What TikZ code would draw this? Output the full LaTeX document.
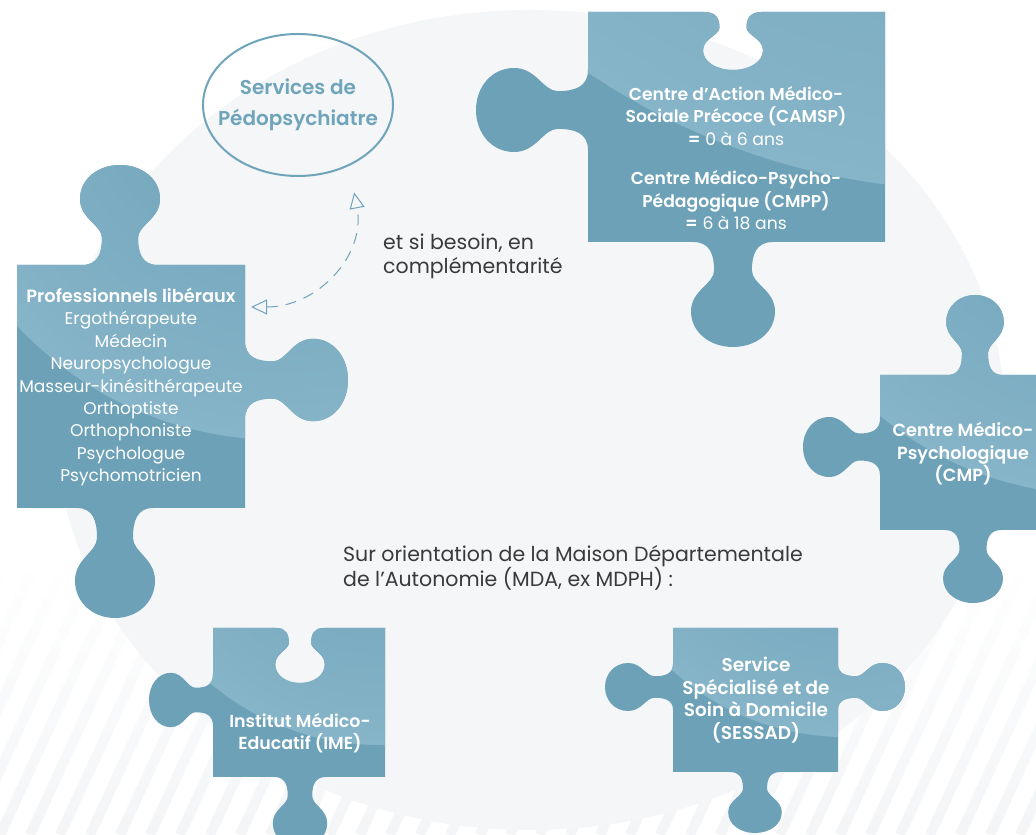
\documentclass[tikz,border=0pt]{standalone}
\usepackage{fontspec}
\setmainfont{Poppins}[BoldFont={Poppins SemiBold}]
\usetikzlibrary{arrows.meta,shapes.geometric,positioning,fadings}

\definecolor{piecebase}{HTML}{6CA1B8}
\definecolor{piecelight}{HTML}{86B4C8}
\definecolor{linkblue}{HTML}{6FA4BA}
\definecolor{textdark}{HTML}{3A3A3A}
\definecolor{backgray}{HTML}{F4F6F8}
\definecolor{stripegray}{HTML}{F3F5F7}

% knob on an edge: centre x, centre y, angle, width scale, depth scale (negative gives a slot)
\newcommand\knob[5]{{[shift={(#1,#2)},rotate=#3,xscale=#4,yscale=#5]
  -- (-38,0) .. controls (-22,0) and (-18,12) .. (-18,27)
  .. controls (-18,40) and (-40,46) .. (-40,66)
  .. controls (-40,86) and (-22,100) .. (0,100)
  .. controls (22,100) and (40,86) .. (40,66)
  .. controls (40,46) and (18,40) .. (18,27)
  .. controls (18,12) and (22,0) .. (38,0)}}

\newcommand\camsppath{(588,823) \knob{733}{823}{0}{.75}{-.58} -- (885,823) -- (885,593)
  \knob{733}{593}{180}{1.05}{1.05} -- (588,593) \knob{588}{725}{90}{1.05}{1.12} -- cycle}
\newcommand\profpath{(17,570) \knob{120}{570}{0}{1}{1} -- (245,570) \knob{245}{455}{-90}{1.03}{1.03}
  -- (245,327) \knob{115}{327}{180}{1}{1.1} -- (17,327) -- cycle}
\newcommand\cmppath{(880,460) \knob{975}{460}{0}{.72}{.8} -- (1050,460) -- (1050,305)
  \knob{973}{305}{180}{.75}{.73} -- (880,305) \knob{880}{388}{90}{.75}{.77} -- cycle}
\newcommand\imepath{(213,207) \knob{300}{207}{0}{.62}{-.55} -- (385,207) -- (385,58)
  \knob{300}{58}{180}{.68}{.7} -- (213,58) \knob{213}{135}{90}{.68}{.64} -- cycle}
\newcommand\sessadpath{(673,207) -- (838,207) \knob{838}{148}{-90}{.6}{.67} -- (838,63)
  \knob{755}{63}{180}{.67}{.61} -- (673,63) \knob{673}{148}{90}{.6}{.68} -- cycle}

% piece: outline, then the light gloss inside a circle
\newcommand\drawpiece[4]{\fill[piece] #1;
  \begin{scope}\clip #1;
    \shade[inner color=piecebase, outer color=piecelight] (#2,#3) circle (#4);
  \end{scope}}

\begin{document}
\begin{tikzpicture}
[x=1pt, y=1pt,
piece/.style={fill=piecebase},
piecetext/.style={text=white, align=center, inner sep=0pt, font=\fontsize{17.2}{22.5}\selectfont},
note/.style={text=textdark, align=left, anchor=west, inner sep=0pt, font=\fontsize{20.5}{24}\selectfont},
link/.style={draw=linkblue, line width=1pt, dash pattern=on 11pt off 8pt, <->,
  >={Triangle[open, length=16pt, width=15pt]}}]
\useasboundingbox (0,0) rectangle (1036,835);
\clip (0,0) rectangle (1036,835);
\fill[white] (0,0) rectangle (1036,835);

% background stripes and disc
\foreach \s in {-300,-270,...,1200}
  \draw[stripegray, line width=10pt, path fading=north] (\s,0) -- ++(120,260);
\fill[backgray] (530,415) ellipse [x radius=475, y radius=410];

% puzzle pieces
\drawpiece{\camsppath}{973}{1335}{690}
\drawpiece{\profpath}{280}{755}{360}
\drawpiece{\cmppath}{1100}{685}{345}
\drawpiece{\imepath}{380}{355}{265}
\drawpiece{\sessadpath}{845}{355}{257}

% texts
\node[ellipse, draw=linkblue, line width=2pt, minimum width=190pt, minimum height=142pt,
  inner xsep=-18pt, inner ysep=-8pt, text=linkblue, align=center,
  font=\bfseries\fontsize{20}{31}\selectfont] (pedo) at (298,730)
  {Services de\\Pédopsychiatre};
\node[piecetext] (camsp) at (736,677)
  {\textbf{Centre d’Action Médico-}\\\textbf{Sociale Précoce (CAMSP)}\\\textbf{=} 0 à 6 ans\\[17pt]
   \textbf{Centre Médico-Psycho-}\\\textbf{Pédagogique (CMPP)}\\\textbf{=} 6 à 18 ans};
\node[piecetext, font=\fontsize{17}{22.4}\selectfont] (prof) at (131,448)
  {\textbf{\fontsize{17.8}{22.4}\selectfont Professionnels libéraux}\\Ergothérapeute\\Médecin\\Neuropsychologue\\
   Masseur-kinésithérapeute\\Orthoptiste\\Orthophoniste\\Psychologue\\Psychomotricien};
\node[piecetext, font=\bfseries\fontsize{17.6}{22.5}\selectfont] (cmp) at (963,381)
  {Centre Médico-\\Psychologique\\(CMP)};
\node[piecetext, font=\bfseries\fontsize{17.4}{22.5}\selectfont] (ime) at (300,102)
  {Institut Médico-\\Educatif (IME)};
\node[piecetext, font=\bfseries\fontsize{18.5}{22.7}\selectfont] (sessad) at (756,135)
  {Service\\Spécialisé et de\\Soin à Domicile\\(SESSAD)};
\node[note] (besoin) at (383,579) {et si besoin, en\\complémentarité};
\node[note] (mda) at (343,267) {Sur orientation de la Maison Départementale\\de l’Autonomie (MDA, ex MDPH) :};

% dashed link between the professionals and the services
\coordinate (profright) at (251,528);
\draw[link, shorten >=27pt] (profright) .. controls (318,528) and (366,580) .. (pedo.-50);
\end{tikzpicture}
\end{document}
